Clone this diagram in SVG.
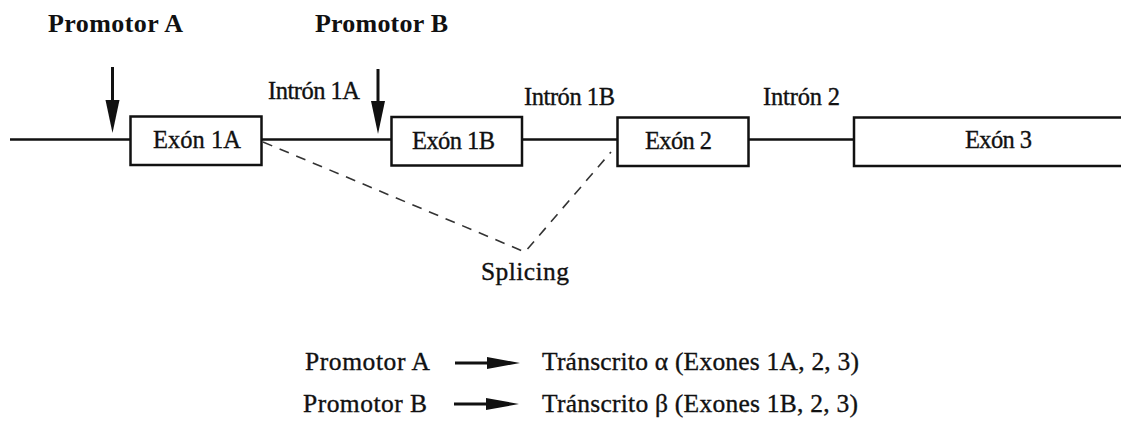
<svg xmlns="http://www.w3.org/2000/svg" width="1121" height="429" viewBox="0 0 1121 429">
  <style>
    .bg { fill: #ffffff; }
    .t { font-family: 'Liberation Serif', 'DejaVu Serif', serif; fill: #111111; }
    .title { font-size: 26px; font-weight: bold; }
    .lbl { font-size: 24.5px; stroke: #111111; stroke-width: 0.35; }
    .big { font-size: 25.5px; }
    .exon { fill: #ffffff; stroke: #111111; stroke-width: 2.5; }
    .gene { stroke: #111111; stroke-width: 2.5; fill: none; }
    .splice { stroke: #333333; stroke-width: 1.6; stroke-dasharray: 10 8; fill: none; }
    .shaft { stroke: #111111; stroke-width: 3; fill: none; }
    .head { fill: #111111; }
  </style>

  <rect class="bg" x="0" y="0" width="1121" height="429"/>

  <!-- gene backbone and splicing connectors -->
  <g id="connectors">
    <line class="gene" x1="10" y1="139.5" x2="854" y2="139.5"/>
    <polyline class="splice" points="263,142 525,252 611,152"/>
    <!-- promoter arrows -->
    <line class="shaft" x1="112.5" y1="67" x2="112.5" y2="105"/>
    <polygon class="head" points="105.5,100 119.5,100 112.5,133"/>
    <line class="shaft" x1="378" y1="69" x2="378" y2="106"/>
    <polygon class="head" points="371,101 385,101 378,134"/>
  </g>

  <!-- exons -->
  <g id="exon1A">
    <rect class="exon" x="130.5" y="116.5" width="131" height="48.5"/>
    <text class="t lbl" x="153" y="148" textLength="88">Exón 1A</text>
  </g>
  <g id="exon1B">
    <rect class="exon" x="391.5" y="117" width="130.5" height="48.5"/>
    <text class="t lbl" x="412" y="149" textLength="83">Exón 1B</text>
  </g>
  <g id="exon2">
    <rect class="exon" x="617.5" y="117.5" width="131" height="48.5"/>
    <text class="t lbl" x="645" y="149" textLength="67">Exón 2</text>
  </g>
  <g id="exon3">
    <rect class="exon" x="854" y="117.5" width="270" height="48.5"/>
    <text class="t lbl" x="965" y="148" textLength="67">Exón 3</text>
  </g>

  <!-- promoter labels -->
  <g id="promotorA">
    <text class="t title" x="48" y="32" textLength="135">Promotor A</text>
  </g>
  <g id="promotorB">
    <text class="t title" x="315" y="32" textLength="133">Promotor B</text>
  </g>

  <!-- intron labels -->
  <g id="intron1A">
    <text class="t lbl" x="268" y="99" textLength="92">Intrón 1A</text>
  </g>
  <g id="intron1B">
    <text class="t lbl" x="524" y="105" textLength="91">Intrón 1B</text>
  </g>
  <g id="intron2">
    <text class="t lbl" x="763" y="105" textLength="77">Intrón 2</text>
  </g>

  <g id="splicing">
    <text class="t lbl big" x="481" y="280" textLength="88">Splicing</text>
  </g>

  <!-- transcript legend -->
  <g id="legendA">
    <text class="t lbl big" x="305" y="370" textLength="125">Promotor A</text>
    <line class="shaft" x1="455" y1="363" x2="490" y2="363"/>
    <polygon class="head" points="487,357 520,363 487,369"/>
    <text class="t lbl big" x="542" y="370" textLength="317">Tránscrito α (Exones 1A, 2, 3)</text>
  </g>
  <g id="legendB">
    <text class="t lbl big" x="303" y="412" textLength="124">Promotor B</text>
    <line class="shaft" x1="454" y1="404" x2="489" y2="404"/>
    <polygon class="head" points="486,398 519,404 486,410"/>
    <text class="t lbl big" x="542" y="412" textLength="316">Tránscrito β (Exones 1B, 2, 3)</text>
  </g>
</svg>
